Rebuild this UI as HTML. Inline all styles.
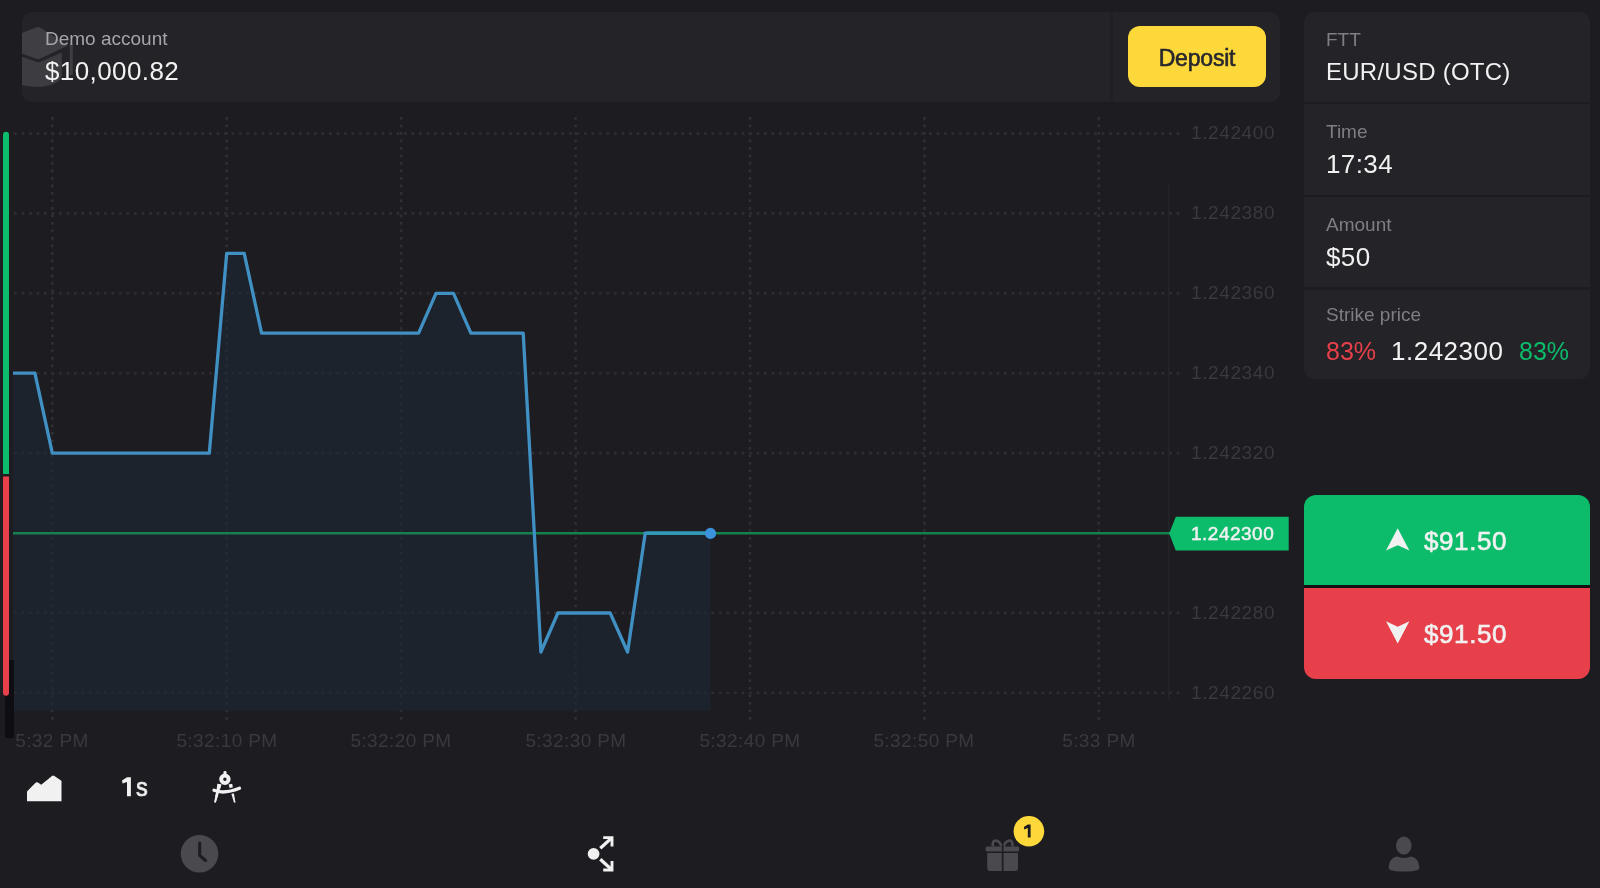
<!DOCTYPE html>
<html><head><meta charset="utf-8">
<style>
*{margin:0;padding:0;box-sizing:border-box}
html,body{width:1600px;height:888px;overflow:hidden;background:#1c1c21;font-family:"Liberation Sans",sans-serif}
.a{position:absolute;white-space:pre}
div.a{will-change:transform}
.card{position:absolute;background:#232328}
.lbl{color:#7e7e83;font-size:19px;line-height:19px}
.val{color:#f1f1f1;font-size:26px;line-height:26px;letter-spacing:0.4px}
.ax{color:#39393e;font-size:19px;line-height:19px;letter-spacing:0.6px}
.tl{color:#39393e;font-size:19px;line-height:19px;letter-spacing:0.4px;width:140px;text-align:center}
</style></head>
<body>
<!-- chart svg -->
<svg class="a" style="left:0;top:0" width="1600" height="888" viewBox="0 0 1600 888">
  <!-- vertical grid -->
  <g stroke="#2f2f35" stroke-width="2.6" stroke-dasharray="2.8 4.7">
    <line x1="52.3" y1="117" x2="52.3" y2="722"/>
    <line x1="226.7" y1="117" x2="226.7" y2="722"/>
    <line x1="401.1" y1="117" x2="401.1" y2="722"/>
    <line x1="575.6" y1="117" x2="575.6" y2="722"/>
    <line x1="750" y1="117" x2="750" y2="722"/>
    <line x1="924.4" y1="117" x2="924.4" y2="722"/>
    <line x1="1098.8" y1="117" x2="1098.8" y2="722"/>
  </g>
  <g stroke="#2d2d33" stroke-width="2.6" stroke-dasharray="2.8 4.7">
    <line x1="14" y1="133.6" x2="1182" y2="133.6"/>
    <line x1="14" y1="213.4" x2="1182" y2="213.4"/>
    <line x1="14" y1="293.3" x2="1182" y2="293.3"/>
    <line x1="14" y1="373.2" x2="1182" y2="373.2"/>
    <line x1="14" y1="453.1" x2="1182" y2="453.1"/>
    <line x1="14" y1="612.9" x2="1182" y2="612.9"/>
    <line x1="14" y1="692.8" x2="1182" y2="692.8"/>
  </g>
  <!-- area fill -->
  <path d="M13,710.7 L13,373.2 L34.9,373.2 L52.3,453.1 L209.3,453.1 L226.7,253.4 L244.2,253.4 L261.6,333.2 L418.6,333.2 L436,293.3 L453.5,293.3 L470.9,333.2 L523.2,333.2 L540.9,652 L557.9,613 L610.2,613 L627.6,652 L645.2,533.2 L710.5,533.2 L710.5,710.7 Z" fill="rgb(28,40,52)" fill-opacity="0.6"/>
  <!-- faint vertical line -->
  <line x1="1168.8" y1="185" x2="1168.8" y2="700" stroke="#252529" stroke-width="1.5"/>
  <!-- strike line -->
  <line x1="13" y1="533.2" x2="1170" y2="533.2" stroke="#15814e" stroke-width="2.4"/>
  <!-- price line -->
  <path d="M13,373.2 L34.9,373.2 L52.3,453.1 L209.3,453.1 L226.7,253.4 L244.2,253.4 L261.6,333.2 L418.6,333.2 L436,293.3 L453.5,293.3 L470.9,333.2 L523.2,333.2 L540.9,652 L557.9,613 L610.2,613 L627.6,652 L645.2,533.2 L710.5,533.2" fill="none" stroke="#4190c4" stroke-width="3.3" stroke-linejoin="round"/>
  <path d="M646.5,533.2 L710.5,533.2" stroke="#2f9cb8" stroke-width="3.2"/>
  <circle cx="710.5" cy="533.4" r="5.6" fill="#3a93dc"/>
  <!-- tag -->
  <path d="M1169.2,533.6 L1175.8,516.7 L1288.7,516.7 L1288.7,550.6 L1175.8,550.6 Z" fill="#0cbc6b"/>
  <!-- left bars -->
  <rect x="5" y="660" width="9" height="78" fill="#0e0e12"/>
  <path d="M3,474 L3,134.7 A3,3 0 0 1 9,134.7 L9,474 Z" fill="#0cbc6b"/>
  <path d="M3,476.5 L9,476.5 L9,692.8 A3,3 0 0 1 3,692.8 Z" fill="#e8404a"/>
</svg>

<!-- top card -->
<div class="card" style="left:22px;top:12px;width:1258px;height:89.5px;border-radius:10px;overflow:hidden">
  <svg class="a" style="left:0;top:0" width="80" height="90" viewBox="0 0 80 90">
    <g fill="#3f3f43">
      <path d="M-6,23.5 L14.5,15.3 Q16.2,14.6 18,15.4 L46,33.5 L18,46.8 Q16.5,47.5 15,46.9 L-6,39.5 Z"/>
      <path d="M-6,42.5 L15,50 Q16.5,50.6 18,50 L39.8,40.5 L39.8,63 C39.8,70 28,74.7 16.6,74.7 C5,74.7 -6,72 -6,70 Z" fill="#3d3d41"/>
      <rect x="47.8" y="31.5" width="3" height="31.5"/>
    </g>
  </svg>
  <div class="a" style="left:1088px;top:0;width:3px;height:90px;background:#1f1f24"></div>
</div>
<div class="a lbl" style="top:29.3px;color:#a5a5a9;font-size:19px;line-height:19px;left:44.5px">Demo account</div>
<div class="a val" style="left:44.7px;top:58px">$10,000.82</div>
<div class="a" style="left:1128px;top:26px;width:138px;height:61px;border-radius:12px;background:#fdd83a;color:#27272c;font-weight:400;font-size:23px;line-height:64px;text-align:center;letter-spacing:-0.2px;-webkit-text-stroke:0.6px #27272c">Deposit</div>

<!-- right panel -->
<div class="card" style="left:1304px;top:12px;width:285.5px;height:90px;border-radius:10px 10px 0 0"></div>
<div class="card" style="left:1304px;top:104.2px;width:285.5px;height:91px"></div>
<div class="card" style="left:1304px;top:197.2px;width:285.5px;height:90.3px"></div>
<div class="card" style="left:1304px;top:289.6px;width:285.5px;height:89.8px;border-radius:0 0 10px 10px"></div>

<div class="a lbl" style="left:1325.8px;top:29.6px">FTT</div>
<div class="a val" style="left:1326px;top:59.7px;font-size:24px;line-height:24px;letter-spacing:0.25px">EUR/USD (OTC)</div>
<div class="a lbl" style="left:1326px;top:121.7px">Time</div>
<div class="a val" style="left:1326px;top:151.4px">17:34</div>
<div class="a lbl" style="left:1325.5px;top:215.2px">Amount</div>
<div class="a val" style="left:1325.5px;top:244px">$50</div>
<div class="a lbl" style="left:1326px;top:304.9px">Strike price</div>
<div class="a val" style="left:1326px;top:339.1px;font-size:25px;line-height:25px;letter-spacing:0;color:#e8404a">83%</div>
<div class="a val" style="left:1390.5px;top:338.3px;font-size:26px;line-height:26px;letter-spacing:0.5px">1.242300</div>
<div class="a val" style="left:1518.5px;top:339.1px;font-size:25px;line-height:25px;letter-spacing:0;color:#0cbc6b">83%</div>

<!-- buy/sell -->
<div class="a" style="left:1304px;top:495px;width:286px;height:90px;border-radius:12px 12px 0 0;background:#0cbc6b"></div>
<div class="a" style="left:1304px;top:585px;width:286px;height:3px;background:#111114"></div>
<div class="a" style="left:1304px;top:588px;width:286px;height:90.5px;border-radius:0 0 12px 12px;background:#e8404a"></div>
<svg class="a" style="left:1386px;top:528px" width="24" height="23" viewBox="0 0 24 23"><path d="M11.7,0.3 L23.4,22.6 L11.7,17.2 L0,22.6 Z" fill="#f1f1f1"/></svg>
<svg class="a" style="left:1386px;top:620.5px" width="24" height="23" viewBox="0 0 24 23"><path d="M11.7,22.6 L23.4,0.3 L11.7,5.7 L0,0.3 Z" fill="#f1f1f1"/></svg>
<div class="a val" style="left:1424px;top:528px;font-weight:400;letter-spacing:0.6px;-webkit-text-stroke:0.6px #f1f1f1">$91.50</div>
<div class="a val" style="left:1424px;top:620.5px;font-weight:400;letter-spacing:0.6px;-webkit-text-stroke:0.6px #f1f1f1">$91.50</div>

<!-- price axis -->
<div class="a ax" style="left:1191px;top:123.4px">1.242400</div>
<div class="a ax" style="left:1191px;top:203.2px">1.242380</div>
<div class="a ax" style="left:1191px;top:283.1px">1.242360</div>
<div class="a ax" style="left:1191px;top:363px">1.242340</div>
<div class="a ax" style="left:1191px;top:442.9px">1.242320</div>
<div class="a ax" style="left:1191px;top:602.8px">1.242280</div>
<div class="a ax" style="left:1191px;top:682.6px">1.242260</div>
<div class="a" style="left:1191px;top:524.2px;font-size:19px;line-height:19px;color:#f1f1f1;font-weight:400;letter-spacing:0.5px;-webkit-text-stroke:0.5px #f1f1f1">1.242300</div>

<!-- time axis -->
<div class="a tl" style="left:-17.7px;top:730.9px">5:32 PM</div>
<div class="a tl" style="left:156.7px;top:730.9px">5:32:10 PM</div>
<div class="a tl" style="left:331.1px;top:730.9px">5:32:20 PM</div>
<div class="a tl" style="left:505.6px;top:730.9px">5:32:30 PM</div>
<div class="a tl" style="left:680px;top:730.9px">5:32:40 PM</div>
<div class="a tl" style="left:854.4px;top:730.9px">5:32:50 PM</div>
<div class="a tl" style="left:1028.8px;top:730.9px">5:33 PM</div>

<!-- toolbar -->
<svg class="a" style="left:0;top:760px" width="260" height="50" viewBox="0 760 260 50">
  <path d="M27,801.2 L27,791.5 L35.5,782.8 Q36.7,781.8 38,782.6 L41.2,784.7 L52,776 Q53.2,775.2 54.4,776 L60.7,780.2 L61.5,781 L61.5,801.2 Z" fill="#f1f1f1"/>
</svg>
<svg class="a" style="left:115px;top:770px" width="20" height="30" viewBox="115 770 20 30"><path d="M127,777.3 L130.9,777.3 L130.9,796.2 L127,796.2 L127,782 L122.5,783.6 L122,780.5 Z" fill="#f1f1f1"/></svg>
<div class="a" style="left:135.5px;top:774px;font-size:26px;line-height:26px;color:#f1f1f1;font-weight:400;-webkit-text-stroke:0.7px #f1f1f1;transform:scaleX(0.9);transform-origin:0 0">s</div>
<svg class="a" style="left:205px;top:765px" width="45" height="45" viewBox="205 765 45 45">
  <g fill="#f1f1f1">
    <path d="M217.6,783.8 L221.4,784.4 L215.8,802.6 L214.3,802.3 Z"/>
    <path d="M228.6,784.4 L232.2,783.8 L235.5,802.4 L234,802.8 Z"/>
    <rect x="223.5" y="771" width="3" height="5.5" rx="1.3"/>
  </g>
  <circle cx="224.9" cy="779.2" r="3.7" fill="none" stroke="#f1f1f1" stroke-width="4"/>
  <path d="M214,790.3 Q224,794.5 239.5,788.3" fill="none" stroke="#1c1c21" stroke-width="6"/>
  <path d="M214,790.3 Q224,794.5 239.5,788.3" fill="none" stroke="#f1f1f1" stroke-width="3.3" stroke-linecap="round"/>
  <path d="M217.6,783.8 L221.4,784.4 L215.8,802.6 L214.3,802.3 Z" fill="#f1f1f1"/>
</svg>
<svg class="a" style="z-index:3;left:1015px;top:815px" width="30" height="30" viewBox="1015 815 30 30"><path d="M1027.8,824.6 L1030.6,824.6 L1030.6,837.6 L1027.8,837.6 L1027.8,828 L1024.2,829.4 L1023.9,827.1 Z" fill="#1c1c21"/></svg>

<!-- bottom nav -->
<svg class="a" style="left:0;top:810px" width="1600" height="78" viewBox="0 810 1600 78">
  <circle cx="199.5" cy="853.8" r="18.8" fill="#4a4a4e"/>
  <path d="M199.7,843 L199.7,855.5 L205.5,860.5" fill="none" stroke="#1c1c21" stroke-width="3" stroke-linecap="round" stroke-linejoin="round"/>
  <circle cx="593.6" cy="853.8" r="5.9" fill="#f1f1f1"/>
  <g stroke="#f1f1f1" fill="none" stroke-width="2.9">
    <path d="M603.2,837.6 L612,837.6 L612,846.5"/>
    <path d="M600.3,848.3 L611.2,838.4" stroke-width="3.3"/>
    <path d="M603.2,870 L612,870 L612,861.1"/>
    <path d="M600.3,859.3 L611.2,869.2" stroke-width="3.3"/>
  </g>
  <g fill="#4a4a4e">
    <rect x="985.6" y="846.4" width="33.5" height="5" rx="1.5"/>
    <path d="M987.2,853 L1018,853 L1018,868 Q1018,871 1015,871 L990.2,871 Q987.2,871 987.2,868 Z"/>
  </g>
  <g fill="none" stroke="#4a4a4e" stroke-width="2.6">
    <path d="M1001.5,846.4 C999,839 991,838.5 993,846.4"/>
    <path d="M1003.7,846.4 C1006.2,839 1014.2,838.5 1012.2,846.4"/>
  </g>
  <rect x="1001.8" y="845" width="1.7" height="27" fill="#1c1c21"/>
  <circle cx="1028.9" cy="831.3" r="15.3" fill="#fdd83a"/>
  <g fill="#4a4a4e">
    <ellipse cx="1403.8" cy="845.6" rx="7.8" ry="9.1"/>
    <path d="M1388.7,868.3 C1388.7,861 1392,857.5 1397,856.6 Q1400.5,858 1404,858 Q1407.5,858 1411,856.6 C1416,857.5 1419.3,861 1419.3,868.3 C1419.3,870.8 1412,871.6 1404,871.6 C1396,871.6 1388.7,870.8 1388.7,868.3 Z"/>
  </g>
</svg>
</body></html>
